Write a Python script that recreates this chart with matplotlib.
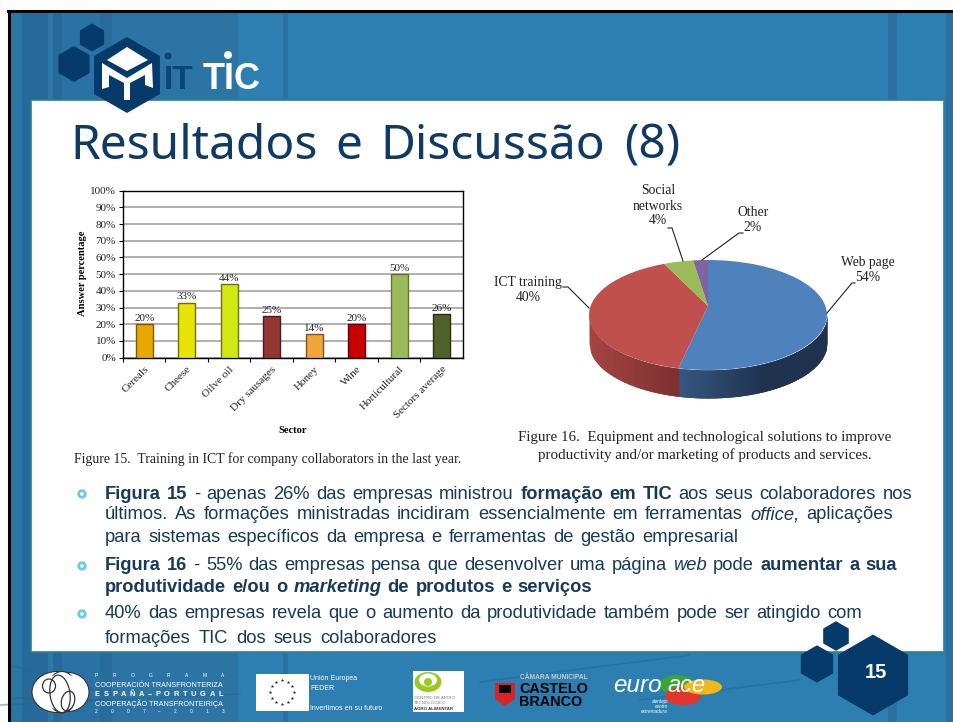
import numpy as np
import matplotlib
matplotlib.use("Agg")
import matplotlib.pyplot as plt
from matplotlib.patches import Polygon, Rectangle, Ellipse, PathPatch
from matplotlib.path import Path

plt.rcParams['font.family'] = ['Liberation Serif', 'DejaVu Sans']

# bar chart data
sectors = ['Cereals', 'Cheese', 'Oilve oil', 'Dry sausages', 'Honey', 'Wine',
           'Horticultural', 'Sectors average']
answer_pct = [20, 33, 44, 25, 14, 20, 50, 26]
bar_colors = ['#e8a800', '#e8e408', '#d2e812', '#943634', '#f0a63c', '#c80000',
              '#9bbb59', '#4f6228']
bar_edges = ['#7a5a00', '#6f6c00', '#6a7500', '#4a1b1a', '#7a5520', '#600000',
             '#5f7536', '#27310f']
pct_ticks = list(range(0, 101, 10))

# pie chart data
pie_labels = ['Web page', 'ICT training', 'Social\nnetworks', 'Other']
pie_values = [54, 40, 4, 2]
pie_colors = ['#4f81bd', '#c0504d', '#9bbb59', '#8064a2']

NAVY = '#053a6b'
TEXT = '#17395c'
SANS = 'Liberation Sans'

W, H = 954, 722
fig = plt.figure(figsize=(W / 100, H / 100), dpi=100, facecolor='white')
bg = fig.add_axes([0, 0, 1, 1])
bg.set_xlim(0, W)
bg.set_ylim(H, 0)
bg.axis('off')


def axes_px(x0, y0, x1, y1):
    return fig.add_axes([x0 / W, 1 - y1 / H, (x1 - x0) / W, (y1 - y0) / H])


def hexagon(cx, cy, r, color=NAVY, z=6):
    ang = np.radians(np.arange(30, 390, 60))
    bg.add_patch(Polygon(np.c_[cx + r * np.cos(ang), cy + r * np.sin(ang)],
                         fc=color, ec='none', zorder=z))


def fit_line(words, x0, x1, y, size, color=TEXT, family=SANS):
    # place the words one by one so that the line ends where it should
    rend = fig.canvas.get_renderer()
    items = []
    total = 0
    for word, weight, style in words:
        t = bg.text(x0, y, word, fontsize=size, color=color, family=family,
                    weight=weight, style=style, va='baseline', ha='left', zorder=8)
        wd = t.get_window_extent(rend).width
        items.append((t, wd))
        total += wd
    gap = (x1 - x0 - total) / max(len(items) - 1, 1)
    x = x0
    for t, wd in items:
        t.set_x(x)
        x += wd + gap


def run(text, weight='normal', style='normal'):
    return [(w, weight, style) for w in text.split()]


# background
bg.add_patch(Rectangle((9, 11), W - 9, H - 11, fc='#2c7fb0', ec='none', zorder=0))
stripes = [(10, 12, '#2a76a5'), (22, 26, '#27699a'), (48, 5, '#2c78a8'), (53, 9, '#27699a'),
           (62, 38, '#2a72a3'), (100, 12, '#286c9b'), (112, 126, '#2c74a3'),
           (283, 5, '#2a72a3'), (888, 9, '#2a70a0'), (946, 8, '#2a70a0')]
for x, w, c in stripes:
    bg.add_patch(Rectangle((x, 12), w, H - 12, fc=c, ec='none', zorder=1))
for xs, ys in [((10, 130), (665, 700)), ((10, 110), (698, 700)), ((0, 240), (705, 694)),
               ((480, 690), (682, 655)), ((640, 800), (700, 680))]:
    bg.plot(xs, ys, color='#24658f', lw=1.2, alpha=0.45, zorder=1)
bg.plot([8, W], [11, 11], color='black', lw=2.2, zorder=2)
bg.plot([9, 9], [11, H], color='black', lw=2.2, zorder=2)
bg.add_patch(Rectangle((31.5, 100), 913, 552, fc='white', ec='#2a8090', lw=1.2, zorder=3))

# logo
hexagon(92, 37.5, 14)
hexagon(74, 64, 18)
hexagon(127, 75, 38)
bg.add_patch(Polygon([(127, 47), (148, 60), (127, 71), (107, 60)], fc='white', zorder=7))
m_shape = [(102, 63), (127, 78), (152, 63), (153, 88), (145, 85), (145, 75), (130, 83),
           (130, 100), (124, 100), (124, 83), (109, 75), (109, 87), (102, 89)]
bg.add_patch(Polygon(m_shape, fc='white', zorder=7))
bg.text(164, 89, 'IT', fontsize=24, family=SANS, weight='bold', color='#0b4476', zorder=7)
bg.text(203, 89, 'TIC', fontsize=26, family=SANS, weight='bold', color='white', zorder=7)
bg.add_patch(Ellipse((168, 56), 7, 7, fc='#0b4476', ec='none', zorder=7))
bg.add_patch(Ellipse((228, 55), 8, 8, fc='white', ec='none', zorder=7))

# title
fit_line(run('Resultados e Discussão (8)'), 70, 680, 159, 34.5, color='#0f3a66', family='Noto Sans')

# Figure 15 bars
ax = axes_px(123, 190.7, 463, 357.7)
xpos = np.arange(len(sectors))
ax.bar(xpos, answer_pct, width=0.41, color=bar_colors, edgecolor=bar_edges, linewidth=1, zorder=3)
for x, v in zip(xpos, answer_pct):
    ax.text(x, v + 0.8, f'{v}%', ha='center', va='bottom', fontsize=8, color='#222222', zorder=4)
ax.set_xlim(-0.5, len(sectors) - 0.5)
ax.set_ylim(0, 100)
ax.set_yticks(pct_ticks)
ax.set_yticklabels([f'{v}%' for v in pct_ticks], fontsize=8, color='#222222')
ax.set_xticks(xpos - 0.5, minor=False)
ax.set_xticklabels([''] * len(sectors))
ax.set_xticks(xpos, minor=True)
ax.set_xticklabels(sectors, minor=True, rotation=45, ha='right', rotation_mode='anchor',
                   fontsize=8, color='#222222')
ax.tick_params(axis='x', which='minor', length=0, pad=5)
ax.tick_params(axis='both', which='major', length=3, width=0.8, pad=2)
ax.grid(axis='y', color='#9a9a9a', lw=1.1, zorder=0)
ax.set_axisbelow(True)
for s in ax.spines.values():
    s.set_linewidth(1)
ax.set_xlabel('Sector', fontsize=7.6, weight='bold', labelpad=0)
ax.xaxis.set_label_coords(0.5, -0.41)
ax.set_ylabel('Answer percentage', fontsize=7.6, weight='bold')
ax.yaxis.set_label_coords(-0.105, 0.507)
bg.text(74, 463, 'Figure 15.  Training in ICT for company collaborators in the last year.',
        fontsize=9.95, color='#222222', zorder=8)

# Figure 16 pie, a flat pie squashed by the axes and given a wall below
pax = axes_px(708 - 119 * 1.1, 315 - 55 * 1.1, 708 + 119 * 1.1, 315 + 55 * 1.8)
depth = 28 / 55
apex = (0, 9 / 55)
wedges, _ = pax.pie(pie_values, colors=pie_colors, startangle=90, counterclock=False, radius=1)
for w in wedges:
    verts = w.get_path().vertices.copy()
    verts[np.hypot(verts[:, 0], verts[:, 1]) < 1e-6] = apex
    pax.add_patch(PathPatch(Path(verts, w.get_path().codes), fc=w.get_facecolor(),
                            ec='none', zorder=5))
    w.set_visible(False)
pax.set_aspect('auto')
pax.set_xlim(-1.1, 1.1)
pax.set_ylim(-1.8, 1.1)

# wall strips run left to right, each one laps over the next to hide seams
split_x = np.cos(np.radians(90 - 360 * pie_values[0] / sum(pie_values)))
red_a, red_b = np.array([0.64, 0.27, 0.26]), np.array([0.49, 0.19, 0.19])
blue_a, blue_b = np.array([0.21, 0.34, 0.50]), np.array([0.12, 0.20, 0.31])
strip_x = np.linspace(-1, 1, 160)
for i, (a, b) in enumerate(zip(strip_x[:-1], strip_x[1:])):
    xs = np.linspace(a, min(b + 0.02, 1), 4)
    low = -np.sqrt(np.clip(1 - xs ** 2, 0, 1))
    if a < split_x:
        c = red_a + (red_b - red_a) * (a + 1) / (split_x + 1)
    else:
        c = blue_a + (blue_b - blue_a) * min((a - split_x) / 0.7, 1)
    pax.fill_between(xs, low, low - depth, color=c, lw=0, zorder=2 + i * 0.001)

label_pos = [(868, 270), (528, 290), (658, 206), (753, 220)]
leaders = [[(827, 313), (852, 283), (855, 283)], [(589, 308), (568, 287), (563, 287)],
           [(683, 261), (672, 228), (668, 228)], [(702, 260), (739, 233), (743, 233)]]
for lab, val, (lx, ly), pts in zip(pie_labels, pie_values, label_pos, leaders):
    bg.text(lx, ly, f'{lab}\n{val}%', ha='center', va='center', fontsize=9.8,
            color='#222222', linespacing=1.2, zorder=8)
    fig.add_artist(plt.Line2D([p[0] / W for p in pts], [1 - p[1] / H for p in pts],
                              color='#222222', lw=0.8))
bg.text(705, 438, 'Figure 16.  Equipment and technological solutions to improve',
        ha='center', va='center', fontsize=10.8, color='#222222', zorder=8)
bg.text(705, 455, 'productivity and/or marketing of products and services.',
        ha='center', va='center', fontsize=10.8, color='#222222', zorder=8)

# body text
B, I, N = 'bold', 'italic', 'normal'
fit_line(run('Figura 15', B) + run('- apenas 26% das empresas ministrou') + run('formação em TIC', B)
         + run('aos seus colaboradores nos'), 105, 912, 499, 13.2)
fit_line(run('últimos. As formações ministradas incidiram essencialmente em ferramentas')
         + run('office,', N, I) + run('aplicações'), 105, 893, 519, 13.2)
fit_line(run('para sistemas específicos da empresa e ferramentas de gestão empresarial'),
         105, 738, 542, 13.2)
fit_line(run('Figura 16', B) + run('- 55% das empresas pensa que desenvolver uma página')
         + run('web', N, I) + run('pode') + run('aumentar a sua', B), 105, 897, 570, 13.2)
fit_line(run('produtividade e/ou o', B) + run('marketing', B, I) + run('de produtos e serviços', B),
         105, 592, 592, 13.2)
fit_line(run('40% das empresas revela que o aumento da produtividade também pode ser atingido com'),
         105, 862, 618, 13.2)
fit_line(run('formações TIC dos seus colaboradores'), 105, 437, 643, 13.2)
for y in [494, 566, 614]:
    bg.add_patch(Ellipse((82, y), 6.5, 6.5, fc='white', ec='#6ec6f0', lw=2, zorder=8))

# footer logos
for cx, cy, w, h in [(57, 692, 50, 41), (68, 692, 42, 39), (62, 692, 30, 41)]:
    bg.add_patch(Ellipse((cx, cy), w, h, fc='white', ec='#333333', lw=0.8, zorder=4))
bg.add_patch(Ellipse((62, 692), 44, 36, fc='white', ec='none', zorder=4))
for cx, cy, w, h, a in [(49, 686, 13, 14, 0), (60, 694, 20, 38, -8), (68, 701, 13, 20, 15)]:
    bg.add_patch(Ellipse((cx, cy), w, h, angle=a, fc='none', ec='#333333', lw=0.9, zorder=5))
fit_line([(c, N, N) for c in 'PROGRAMA'], 95, 224, 677, 3.5, color='white')
bg.text(95, 687, 'COOPERACIÓN TRANSFRONTERIZA', fontsize=5.2, family=SANS, color='white', zorder=5)
fit_line([(c, B, N) for c in 'ESPAÑA–PORTUGAL'], 95, 223, 696, 5.4, color='white')
bg.text(95, 706, 'COOPERAÇÃO TRANSFRONTEIRIÇA', fontsize=5.2, family=SANS, color='white', zorder=5)
fit_line([(c, N, N) for c in '2007–2013'], 95, 224, 713, 3.5, color='white')
bg.add_patch(Rectangle((256, 674), 53, 37, fc='white', ec='none', zorder=4))
star_ang = np.radians(np.arange(0, 360, 30))
bg.scatter(282 + 12 * np.cos(star_ang), 692 + 12 * np.sin(star_ang), marker='*', s=7,
           color='#222222', linewidths=0, zorder=5)
bg.text(310, 680, 'Unión Europea', fontsize=5, family=SANS, color='white', zorder=5)
bg.text(310, 690, 'FEDER', fontsize=5, family=SANS, color='white', zorder=5)
bg.text(310, 710, 'Invertimos en su futuro', fontsize=5, family=SANS, color='white', zorder=5)
bg.add_patch(Rectangle((413, 671), 51, 41, fc='white', ec='none', zorder=4))
bg.add_patch(Ellipse((428, 682), 27, 20, fc='#9cc820', ec='none', zorder=5))
bg.add_patch(Ellipse((428, 680), 18, 13, fc='white', ec='none', zorder=5))
bg.add_patch(Ellipse((428, 682), 8, 8, fc='#9cc820', ec='none', zorder=5))
bg.text(414, 699, 'CENTRO DE APOIO', fontsize=3.2, family=SANS, color='#777777', zorder=5)
bg.text(414, 704, 'TECNOLÓGICO', fontsize=3.2, family=SANS, color='#777777', zorder=5)
bg.text(414, 710, 'AGRO ALIMENTAR', fontsize=3.2, family=SANS, weight='bold', color='#333333', zorder=5)
bg.text(520, 679, 'CÂMARA MUNICIPAL', fontsize=4.8, family=SANS, weight='bold', color='#c8c8c8', zorder=5)
bg.text(519, 693, 'CASTELO', fontsize=10.4, family=SANS, weight='bold', color='black', zorder=5)
bg.text(519, 706, 'BRANCO', fontsize=10.4, family=SANS, weight='bold', color='black', zorder=5)
bg.add_patch(Polygon([(495, 683), (515, 683), (515, 699), (505, 706), (495, 699)],
                     fc='#d8232a', ec='none', zorder=5))
bg.add_patch(Rectangle((499, 685), 12, 8, fc='black', ec='none', zorder=6))
for cx, cy, w, h, c in [(677, 685, 35, 20, '#3aa535'), (683, 696, 36, 18, '#e2352c'),
                        (703, 687, 38, 15, '#f2b71c')]:
    bg.add_patch(Ellipse((cx, cy), w, h, fc=c, ec='none', zorder=5))
bg.text(613, 692, 'euro', fontsize=17.5, family=SANS, style='italic', color='white', zorder=6)
bg.text(667, 692, 'ace', fontsize=17, family=SANS, style='italic', color='white', zorder=6)
for y, s in [(703, 'alentejo'), (708, 'centro'), (713, 'extremadura')]:
    bg.text(668, y, s, fontsize=3.4, family=SANS, style='italic', color='white', ha='right', zorder=6)

# page number
hexagon(836, 636, 14.8)
hexagon(817, 664, 18.7)
hexagon(873, 675, 40.5)
bg.text(876, 673, '15', fontsize=14.5, family=SANS, weight='bold', color='white',
        ha='center', va='center', zorder=8)

fig.savefig('out.png', dpi=100)
